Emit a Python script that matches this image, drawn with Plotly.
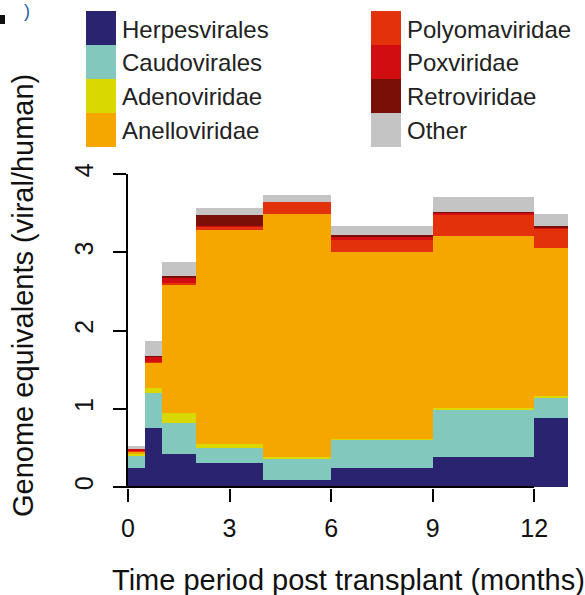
import plotly.graph_objects as go

# Time bins (months post transplant): left/right edges of each period
bin_edges = [0, 0.5, 1, 2, 4, 6, 9, 12, 13]

families = ["Herpesvirales", "Caudovirales", "Adenoviridae", "Anelloviridae",
            "Polyomaviridae", "Poxviridae", "Retroviridae", "Other"]
colors = ["#2a2470", "#82c8bd", "#d9d800", "#f5a700",
          "#e3310b", "#d20d12", "#7a0f08", "#c4c4c4"]

# Genome equivalents (viral/human) per period, one list per family
herpesvirales  = [0.24, 0.75, 0.42, 0.31, 0.09, 0.24, 0.38, 0.88]
caudovirales   = [0.16, 0.45, 0.40, 0.19, 0.27, 0.37, 0.61, 0.27]
adenoviridae   = [0.03, 0.06, 0.12, 0.05, 0.03, 0.005, 0.015, 0.01]
anelloviridae  = [0.02, 0.33, 1.64, 2.74, 3.10, 2.385, 2.20, 1.89]
polyomaviridae = [0.01, 0.01, 0.03, 0.04, 0.15, 0.16, 0.28, 0.25]
poxviridae     = [0.03, 0.07, 0.06, 0.01, 0.00, 0.04, 0.02, 0.01]
retroviridae   = [0.00, 0.005, 0.03, 0.13, 0.00, 0.02, 0.005, 0.03]
other          = [0.03, 0.19, 0.17, 0.10, 0.09, 0.12, 0.20, 0.15]

series = [herpesvirales, caudovirales, adenoviridae, anelloviridae,
          polyomaviridae, poxviridae, retroviridae, other]

x_ticks = [0, 3, 6, 9, 12]
y_ticks = [0, 1, 2, 3, 4]

centers = [(a + b) / 2 for a, b in zip(bin_edges[:-1], bin_edges[1:])]
widths = [b - a for a, b in zip(bin_edges[:-1], bin_edges[1:])]

FONT = "Liberation Sans, Arial, sans-serif"
W, H = 585, 595
ML, MR, MT, MB = 128, 17, 174, 107

fig = go.Figure()
for name, vals, col in zip(families, series, colors):
    fig.add_trace(go.Bar(
        x=centers, y=vals, width=widths, name=name,
        marker=dict(color=col, line=dict(width=0)),
        showlegend=False,
    ))

# x axis line only spans the labelled ticks (0-12)
fig.add_shape(type="line", xref="x", yref="y", x0=x_ticks[0], x1=x_ticks[-1],
              y0=0, y1=0, line=dict(color="black", width=2))

# custom legend with large adjoining swatches
pw, ph = W - ML - MR, H - MT - MB
def px_x(px):
    return (px - ML) / pw
def px_y(py):
    return (H - MB - py) / ph

row_h = 34
top = 11
cols = [(86, 116, 120), (371, 401, 405)]
for i, (name, col) in enumerate(zip(families, colors)):
    c = cols[i // 4]
    r = i % 4
    y0 = top + r * row_h
    fig.add_shape(type="rect", xref="paper", yref="paper",
                  x0=px_x(c[0]), x1=px_x(c[1]),
                  y0=px_y(y0 + row_h), y1=px_y(y0),
                  fillcolor=col, line=dict(width=0))
    fig.add_annotation(xref="paper", yref="paper", x=px_x(c[2]),
                       y=px_y(y0 + row_h / 2 + 1), text=name, showarrow=False,
                       xanchor="left", yanchor="middle",
                       font=dict(family=FONT, size=24, color="#222"))

# fragments of the neighbouring panel label at the top-left corner
fig.add_shape(type="rect", xref="paper", yref="paper",
              x0=px_x(0), x1=px_x(5), y0=px_y(24), y1=px_y(15),
              fillcolor="#111", line=dict(width=0))
fig.add_annotation(xref="paper", yref="paper", x=px_x(27), y=px_y(11),
                   text=")", showarrow=False, xanchor="center", yanchor="middle",
                   font=dict(family=FONT, size=18, color="#1f5fa8"))

# axis titles
fig.add_annotation(xref="paper", yref="paper", x=px_x(348), y=px_y(580),
                   text="Time period post transplant (months)", showarrow=False,
                   xanchor="center", yanchor="middle",
                   font=dict(family=FONT, size=29, color="#111"))
fig.add_annotation(xref="paper", yref="paper", x=px_x(23), y=px_y(296),
                   text="Genome equivalents (viral/human)", showarrow=False,
                   textangle=-90, xanchor="center", yanchor="middle",
                   font=dict(family=FONT, size=29, color="#111"))

fig.update_layout(
    width=W, height=H,
    margin=dict(l=ML, r=MR, t=MT, b=MB, pad=0),
    barmode="stack", bargap=0,
    plot_bgcolor="white", paper_bgcolor="white",
    font=dict(family=FONT, size=25, color="#111"),
)
fig.update_xaxes(range=[0, 13], tickvals=x_ticks, ticks="outside", ticklen=13,
                 tickwidth=2, tickcolor="black", showgrid=False, zeroline=False,
                 showline=False, tickfont=dict(size=25), ticklabelstandoff=5)
fig.update_yaxes(range=[-0.012, 4], tickvals=y_ticks, ticks="outside", ticklen=13,
                 tickwidth=2, tickcolor="black", showgrid=False, zeroline=False,
                 showline=True, linewidth=2, linecolor="black", tickangle=-90,
                 tickfont=dict(size=25), ticklabelstandoff=10)

fig.write_html("out.html")
